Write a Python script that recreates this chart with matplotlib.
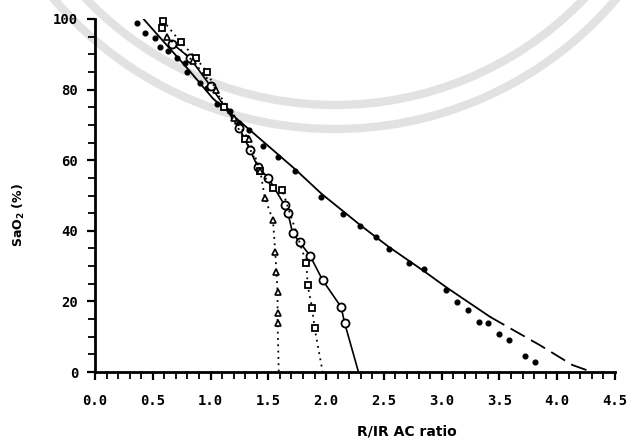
import matplotlib
matplotlib.use("Agg")
import matplotlib.pyplot as plt
from matplotlib.patches import Arc

# filled dots scattered along the main curve
dot_x = [0.36, 0.43, 0.52, 0.56, 0.63, 0.71, 0.78, 0.80, 0.91, 0.97, 1.06, 1.17, 1.25,
         1.33, 1.45, 1.58, 1.73, 1.96, 2.15, 2.29, 2.43, 2.54, 2.72, 2.85, 3.04, 3.13,
         3.23, 3.32, 3.40, 3.50, 3.58, 3.72, 3.81]
dot_y = [98.9, 96, 94.5, 92, 91, 89, 87.5, 85, 82, 80.5, 76, 74, 70.5,
         68.5, 64, 61, 57, 49.6, 44.8, 41.5, 38.2, 34.8, 30.9, 29.2, 23.2, 19.8,
         17.6, 14.2, 13.9, 10.8, 9.1, 4.5, 2.8]

# main fitted curve (solid part, then dashed extension)
fit_x = [0.42, 0.80, 1.02, 1.37, 1.73, 1.96, 2.30, 2.54, 2.85, 3.04, 3.42]
fit_y = [100, 86, 77.5, 67.7, 57.5, 50.5, 41.5, 35.5, 28.5, 24, 15.6]
ext_x = [3.42, 3.85, 4.13, 4.30]
ext_y = [15.6, 7.6, 2.0, 0]

# open circles (solid line)
circ_x = [0.67, 0.82, 1.00, 1.25, 1.34, 1.41, 1.50, 1.64, 1.67, 1.71, 1.77, 1.86, 1.97, 2.13, 2.16, 2.28]
circ_y = [93, 89, 81, 69, 63, 58, 55, 47.3, 45, 39.4, 36.8, 33, 26, 18.4, 13.9, 0]

# open squares (dotted line)
sq_x = [0.58, 0.59, 0.74, 0.87, 0.97, 1.12, 1.30, 1.43, 1.54, 1.62, 1.83, 1.84, 1.88, 1.90, 1.97]
sq_y = [97.5, 99.5, 93.5, 89, 85, 75, 66, 57, 52, 51.6, 30.8, 24.6, 18, 12.5, 0]

# open triangles (dotted line)
tri_x = [0.62, 0.85, 1.05, 1.20, 1.33, 1.43, 1.47, 1.54, 1.56, 1.57, 1.58, 1.58, 1.58, 1.59]
tri_y = [95, 88, 80, 72, 66, 57, 49.3, 43, 34, 28.3, 22.7, 16.7, 14, 0]

xticks = [0.0, 0.5, 1.0, 1.5, 2.0, 2.5, 3.0, 3.5, 4.0, 4.5]
xtick_labels = ["0.0", "0.5", "1.0", "1.5", "2.0", "2.5", "3.0", "3.5", "4.0", "4.5"]
yticks = [0, 20, 40, 60, 80, 100]

fig = plt.figure(figsize=(6.34, 4.42), dpi=100)

# faint watermark arcs behind the chart
bg = fig.add_axes([0, 0, 1, 1], zorder=0)
bg.set_xlim(0, 634)
bg.set_ylim(442, 0)
bg.axis("off")
for r in [345, 369]:
    bg.add_patch(Arc((335, -240), 2 * r, 2 * r, theta1=0, theta2=360,
                     color="#e2e2e2", lw=6))

ax = fig.add_axes([95 / 634, 1 - 372 / 442, 520 / 634, 353 / 442], zorder=1)
ax.patch.set_alpha(0)

ax.plot(fit_x, fit_y, color="black", lw=1.3)
ax.plot(ext_x, ext_y, color="black", lw=1.3, dashes=(9, 4))
ax.plot(dot_x, dot_y, "o", color="black", ms=3.4, clip_on=False)

ax.plot(circ_x, circ_y, color="black", lw=1.2, clip_on=False)
ax.plot(circ_x[:-1], circ_y[:-1], "o", mfc="white", mec="black", mew=1.3, ms=5.8, clip_on=False)

ax.plot(sq_x, sq_y, color="black", lw=1.3, ls=(0, (1, 2.5)), clip_on=False)
ax.plot(sq_x[:-1], sq_y[:-1], "s", mfc="white", mec="black", mew=1.3, ms=4.6, clip_on=False)

ax.plot(tri_x, tri_y, color="black", lw=1.3, ls=(0, (1, 2.5)), clip_on=False)
ax.plot(tri_x[:-1], tri_y[:-1], "^", mfc="white", mec="black", mew=1.2, ms=4.8, clip_on=False)

ax.set_xlim(0, 4.5)
ax.set_ylim(0, 100)
ax.spines["top"].set_visible(False)
ax.spines["right"].set_visible(False)
ax.spines["left"].set_linewidth(2)
ax.spines["bottom"].set_linewidth(2)

ax.set_xticks(xticks)
ax.set_xticklabels(xtick_labels)
ax.set_xticks([i / 10 for i in range(46)], minor=True)
ax.set_yticks(yticks)
ax.set_yticks(list(range(0, 101, 5)), minor=True)
ax.tick_params(axis="both", which="major", length=6, width=1.6, direction="out")
ax.tick_params(axis="both", which="minor", length=5, width=1.3, direction="out")
ax.tick_params(axis="x", which="major", pad=10)
ax.tick_params(axis="y", which="major", pad=6)
for lab in ax.get_xticklabels() + ax.get_yticklabels():
    lab.set_fontfamily("DejaVu Sans Mono")
    lab.set_fontweight("bold")
    lab.set_fontsize(10)

ax.set_xlabel("R/IR AC ratio", fontsize=10, fontweight="bold")
ax.xaxis.set_label_coords(0.60, -0.15)
ax.set_ylabel("SaO$_\\mathbf{2}$ (%)", fontsize=9, fontweight="bold")
ax.yaxis.set_label_coords(-0.13, 0.445)

fig.savefig("out.png", dpi=100)
